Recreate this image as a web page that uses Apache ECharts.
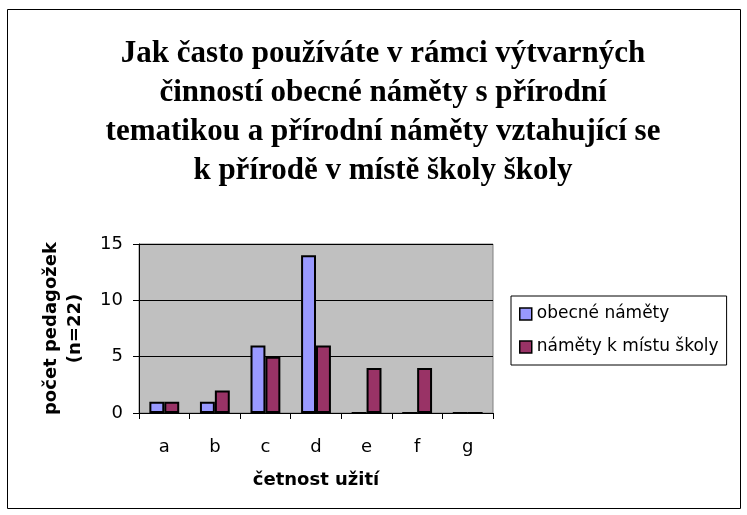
<!DOCTYPE html>
<html>
<head>
<meta charset="utf-8">
<script src="https://cdn.jsdelivr.net/npm/echarts@6/dist/echarts.min.js"></script>
<style>
  html, body { margin: 0; padding: 0; background: #fff; }
  #chart { width: 747px; height: 515px; }
</style>
</head>
<body>
<div id="chart"></div>
<script>
// data
var categories = ["a", "b", "c", "d", "e", "f", "g"];
var obecne = [1, 1, 6, 14, 0, 0, 0];
var mistni = [1, 2, 5, 6, 4, 4, 0];
var seriesNames = ["obecné náměty", "náměty k místu školy"];

var chart = echarts.init(document.getElementById("chart"));

var sans = "DejaVu Sans";

var option = {
  backgroundColor: "#fff",
  animation: false,
  title: {
    text: "Jak často používáte v rámci výtvarných\nčinností obecné náměty s přírodní\ntematikou a přírodní náměty vztahující se\nk přírodě v místě školy školy",
    left: 378,
    top: 30,
    textAlign: "center",
    textStyle: {
      fontFamily: "Liberation Serif",
      fontWeight: "bold",
      fontSize: 31,
      lineHeight: 38.9,
      color: "#000"
    }
  },
  graphic: [{
    type: "rect",
    shape: { x: 7.5, y: 9.5, width: 733, height: 499 },
    style: { fill: "none", stroke: "#000", lineWidth: 1 }
  }],
  legend: {
    orient: "vertical",
    left: 511,
    top: 296,
    padding: [9, 8, 9, 8],
    borderColor: "#000",
    borderWidth: 1,
    itemWidth: 12,
    itemHeight: 12,
    itemGap: 15,
    icon: "rect",
    itemStyle: { borderColor: "#000", borderWidth: 1.5 },
    textStyle: { fontFamily: sans, fontSize: 17, lineHeight: 18, color: "#000" },
    data: seriesNames
  },
  grid: {
    left: 139,
    top: 244,
    width: 354,
    height: 169,
    show: true,
    backgroundColor: "#C0C0C0",
    borderColor: "#808080",
    borderWidth: 1
  },
  xAxis: {
    type: "category",
    data: categories,
    name: "četnost užití",
    nameLocation: "middle",
    nameGap: 58,
    nameTextStyle: { fontFamily: sans, fontWeight: "bold", fontSize: 18, color: "#000" },
    axisLine: { lineStyle: { color: "#000", width: 1 } },
    axisTick: { show: true, length: 6, lineStyle: { color: "#000" } },
    axisLabel: { fontFamily: sans, fontSize: 18, color: "#000", margin: 25 }
  },
  yAxis: {
    type: "value",
    min: 0,
    max: 15,
    interval: 5,
    name: "počet pedagožek\n(n=22)",
    nameLocation: "middle",
    nameGap: 52,
    nameTextStyle: { fontFamily: sans, fontWeight: "bold", fontSize: 18, color: "#000", lineHeight: 24 },
    axisLine: { show: true, lineStyle: { color: "#000", width: 1 } },
    axisTick: { show: true, length: 6, lineStyle: { color: "#000" } },
    axisLabel: { fontFamily: sans, fontSize: 18, color: "#000", margin: 16 },
    splitLine: { show: true, lineStyle: { color: "#000", width: 1 } }
  },
  series: [
    {
      name: seriesNames[0],
      type: "bar",
      data: obecne,
      barGap: "0%",
      barCategoryGap: "41%",
      itemStyle: { color: "#9999FF", borderColor: "#000", borderWidth: 2 }
    },
    {
      name: seriesNames[1],
      type: "bar",
      data: mistni,
      itemStyle: { color: "#993366", borderColor: "#000", borderWidth: 2 }
    }
  ]
};

chart.setOption(option);
</script>
</body>
</html>
